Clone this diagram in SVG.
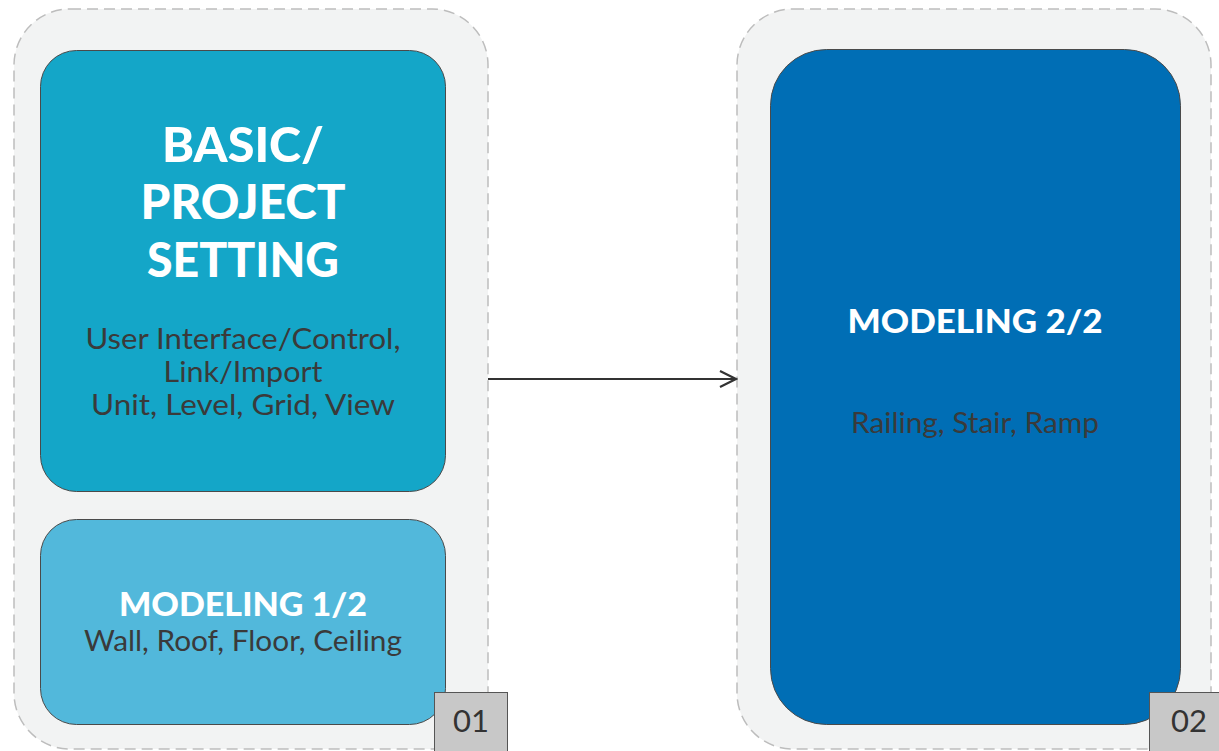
<svg xmlns="http://www.w3.org/2000/svg" width="1219" height="751" viewBox="0 0 1219 751">
<style>
.cont{fill:#f2f3f3;stroke:#bdbdbd;stroke-width:1.5;stroke-dasharray:11 6}
.node{stroke:#4a4a4a;stroke-width:1}
.title{font-family:Lato,"Liberation Sans",sans-serif;font-weight:900;fill:#ffffff;text-anchor:middle}
.sub{font-family:Lato,"Liberation Sans",sans-serif;fill:#3a3a3a;text-anchor:middle;font-size:28px}
.badge{fill:#c8c8c8;stroke:#555;stroke-width:1}
.btxt{font-family:Lato,"Liberation Sans",sans-serif;fill:#333;font-size:31px;text-anchor:middle}
</style>
<defs>
<marker id="arr" viewBox="0 0 20 20" refX="18" refY="10" markerWidth="20" markerHeight="20" markerUnits="userSpaceOnUse" orient="auto">
<path d="M2,2 L18,10 L2,18" fill="none" stroke="#333" stroke-width="2.2"/>
</marker>
</defs>
<g id="group1">
<rect class="cont" x="14" y="9" width="474" height="740" rx="56"/>
</g>
<g id="group2">
<rect class="cont" x="737" y="9" width="474" height="740" rx="56"/>
</g>
<g id="node-basic">
<rect class="node" x="40.5" y="50.5" width="405" height="441" rx="36" fill="#14a6c8"/>
<text class="title" x="243" y="162" font-size="48" textLength="162" lengthAdjust="spacingAndGlyphs">BASIC/</text>
<text class="title" x="243" y="219" font-size="48" textLength="205" lengthAdjust="spacingAndGlyphs">PROJECT</text>
<text class="title" x="243" y="277" font-size="48" textLength="192" lengthAdjust="spacingAndGlyphs">SETTING</text>
<text class="sub" x="243" y="349" textLength="315" lengthAdjust="spacingAndGlyphs">User Interface/Control,</text>
<text class="sub" x="243" y="382" textLength="159" lengthAdjust="spacingAndGlyphs">Link/Import</text>
<text class="sub" x="243" y="415" textLength="304" lengthAdjust="spacingAndGlyphs">Unit, Level, Grid, View</text>
</g>
<g id="node-modeling1">
<rect class="node" x="40.5" y="519.5" width="405" height="205" rx="36" fill="#52b8db"/>
<text class="title" x="243" y="616" font-size="33" textLength="248" lengthAdjust="spacingAndGlyphs">MODELING 1/2</text>
<text class="sub" x="243" y="651" textLength="318" lengthAdjust="spacingAndGlyphs">Wall, Roof, Floor, Ceiling</text>
</g>
<g id="node-modeling2">
<rect class="node" x="770.5" y="49.5" width="410" height="675" rx="56" fill="#006eb5"/>
<text class="title" x="975" y="333" font-size="33" textLength="255" lengthAdjust="spacingAndGlyphs">MODELING 2/2</text>
<text class="sub" x="975" y="433" textLength="248" lengthAdjust="spacingAndGlyphs">Railing, Stair, Ramp</text>
</g>
<g id="badge-01">
<rect class="badge" x="434.5" y="692.5" width="73" height="62"/>
<text class="btxt" x="471" y="732">01</text>
</g>
<g id="badge-02">
<rect class="badge" x="1149.5" y="692.5" width="73" height="62"/>
<text class="btxt" x="1189" y="732">02</text>
</g>
<g id="connectors">
<line x1="488" y1="379" x2="736" y2="379" stroke="#333" stroke-width="2" marker-end="url(#arr)"/>
</g>
</svg>
